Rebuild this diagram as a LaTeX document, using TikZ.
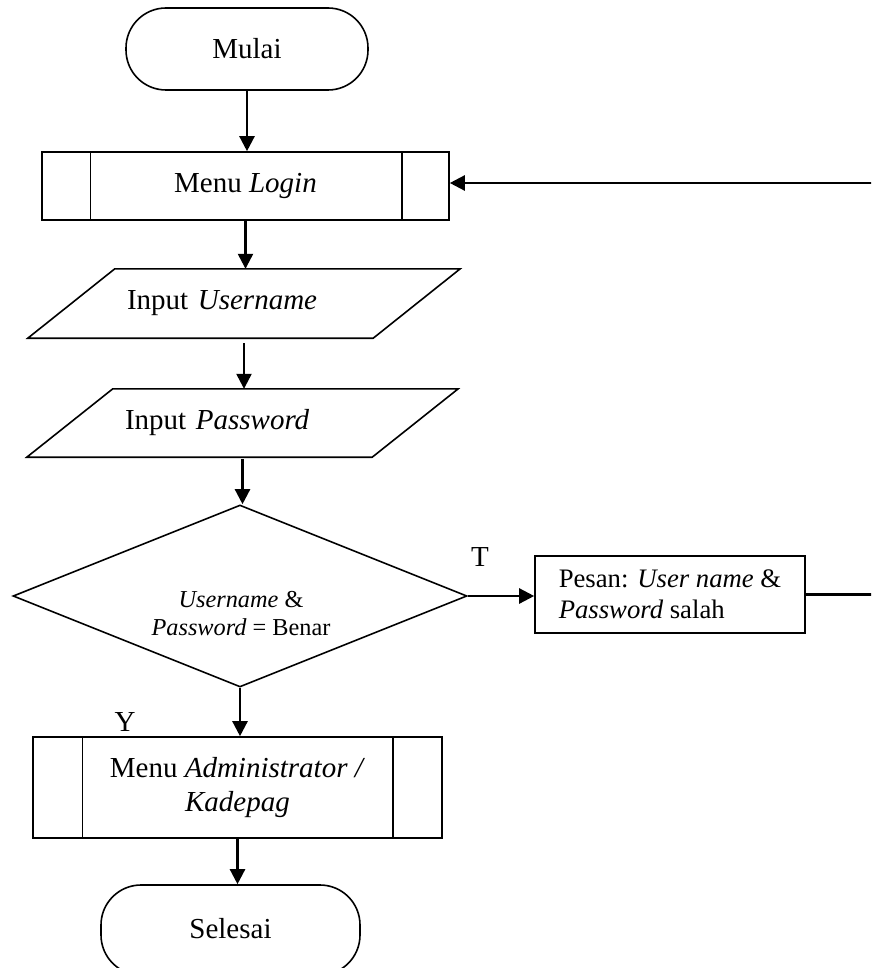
\documentclass[tikz,border=0pt]{standalone}
\usepackage{fontspec}
\setmainfont{Liberation Serif}
\usetikzlibrary{shapes.geometric,arrows.meta}

\tikzset{
  outline/.style={draw=black, line width=1.6pt},
  bigtxt/.style={font=\fontsize{29}{34}\selectfont},
  terminal/.style={outline, bigtxt, rounded corners=40pt, inner sep=0pt},
  procbox/.style={outline, bigtxt, inner sep=0pt, align=center},
  iobox/.style={bigtxt, inner ysep=0pt, align=left},
  decision/.style={outline, diamond, inner sep=0pt},
  dectext/.style={font=\fontsize{24.3}{28}\selectfont, align=center, inner sep=0pt},
  msgbox/.style={outline, font=\fontsize{26.7}{31}\selectfont, align=left, inner sep=0pt},
  flow/.style={line width=2.4pt, -{Triangle[length=15pt, width=15pt]}},
  branch/.style={bigtxt, inner sep=0pt}
}

\begin{document}
\begin{tikzpicture}[x=1pt, y=-1pt]
  \useasboundingbox (0,0) rectangle (871,968);
  \clip (0,0) rectangle (871,968);

  % start terminal
  \node[terminal, minimum width=242, minimum height=82] (mulai) at (247,49) {Mulai};

  % login sub-process
  \node[procbox, minimum width=407, minimum height=68] (login) at (245.5,186) {Menu \textit{Login}};
  \draw[line width=1.4pt] ([xshift=49]login.north west) -- ([xshift=49]login.south west);
  \draw[line width=1.4pt] ([xshift=-48]login.north east) -- ([xshift=-48]login.south east);

  % input username
  \node[iobox, minimum height=69, text width=234, inner xsep=99] (user) at (244,303.5) {Input \textit{Username}};
  \draw[outline] ([xshift=87]user.north west) -- (user.north east)
        -- ([xshift=-87]user.south east) -- (user.south west) -- cycle;

  % input password
  \node[iobox, minimum height=68, text width=235, inner xsep=98] (pass) at (242.5,423) {Input \textit{Password}};
  \draw[outline] ([xshift=86]pass.north west) -- (pass.north east)
        -- ([xshift=-86]pass.south east) -- (pass.south west) -- cycle;

  % decision
  \node[decision, minimum width=454, minimum height=182] (dec) at (240,596) {};
  \node[dectext] (dectxt) at (241,614) {\textit{Username} \&\\\textit{Password} = Benar};

  % error message
  \node[msgbox, minimum width=270, minimum height=77] (pesan) at (670,594.5)
       {Pesan: \textit{User name} \&\\\textit{Password} salah};

  % administrator sub-process
  \node[procbox, minimum width=409, minimum height=101] (admin) at (237.5,787.5)
       {Menu \textit{Administrator /}\\\textit{Kadepag}};
  \draw[line width=1.4pt] ([xshift=50]admin.north west) -- ([xshift=50]admin.south west);
  \draw[line width=1.4pt] ([xshift=-50]admin.north east) -- ([xshift=-50]admin.south east);

  % end terminal, running past the lower edge
  \node[terminal, minimum width=259, minimum height=90] (selesai) at (230.5,930) {\raisebox{4pt}{Selesai}};

  % branch labels
  \node[branch] (tlabel) at (480,557) {T};
  \node[branch] (ylabel) at (125,722) {Y};

  % flow connectors
  \draw[flow] (mulai.south) -- (mulai.south |- login.north);
  \draw[flow] (login.south) -- (login.south |- user.north);
  \draw[flow] ([yshift=-5]user.south) -- (user.south |- pass.north);
  \draw[flow] ([yshift=-2]pass.south) -- (pass.south |- dec.north);
  \draw[flow] (dec.south) -- (dec.south |- admin.north);
  \draw[flow] (admin.south) -- (admin.south |- selesai.north);
  \draw[flow] (dec.east) -- (dec.east -| pesan.west);

  % return path to the login menu
  \coordinate (back) at (885,400);
  \draw[flow] (pesan.east) -| (back) |- ([yshift=3]login.east);
\end{tikzpicture}
\end{document}
